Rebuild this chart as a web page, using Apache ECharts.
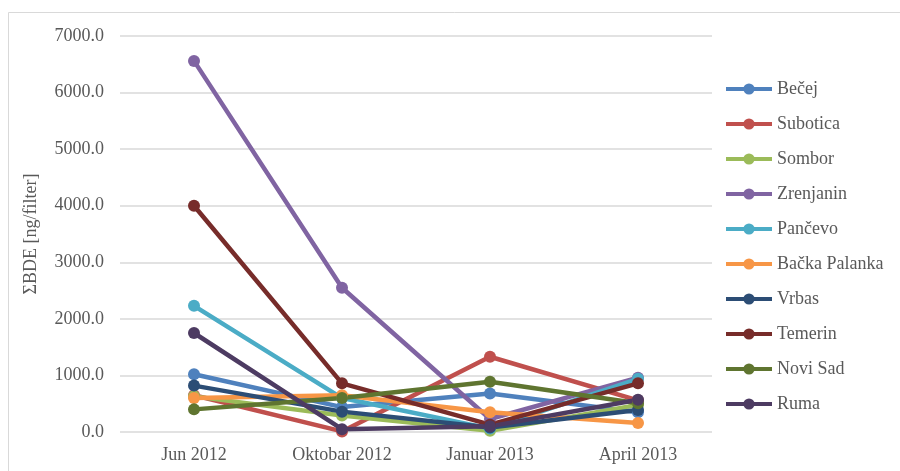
<!DOCTYPE html>
<html>
<head>
<meta charset="utf-8">
<script src="https://cdn.jsdelivr.net/npm/echarts@6/dist/echarts.min.js"></script>
<style>
  html, body { margin: 0; padding: 0; background: #fff; }
  #chart { width: 900px; height: 471px; }
</style>
</head>
<body>
<div id="chart"></div>
<script>
// Sampling campaigns
const campaigns = ['Jun 2012', 'Oktobar 2012', 'Januar 2013', 'April 2013'];

// ΣBDE per filter [ng/filter] for each site
const becej        = [1020, 440, 680, 350];
const subotica     = [650, 10, 1330, 560];
const sombor       = [630, 290, 20, 480];
const zrenjanin    = [6560, 2550, 230, 960];
const pancevo      = [2230, 600, 60, 940];
const backaPalanka = [600, 650, 350, 160];
const vrbas        = [820, 360, 80, 390];
const temerin      = [4000, 860, 130, 860];
const noviSad      = [400, 600, 890, 510];
const ruma         = [1750, 50, 100, 570];

const siteNames = ['Bečej', 'Subotica', 'Sombor', 'Zrenjanin', 'Pančevo',
                   'Bačka Palanka', 'Vrbas', 'Temerin', 'Novi Sad', 'Ruma'];
const siteValues = [becej, subotica, sombor, zrenjanin, pancevo,
                    backaPalanka, vrbas, temerin, noviSad, ruma];
const siteColors = ['#4F81BD', '#C0504D', '#9BBB59', '#8064A2', '#4BACC6',
                    '#F79646', '#2C4D75', '#772C2A', '#5F7530', '#4D3B62'];

const FONT = '"Liberation Serif", "Times New Roman", serif';

const chart = echarts.init(document.getElementById('chart'), null, { renderer: 'canvas' });

chart.setOption({
  animation: false,
  backgroundColor: '#ffffff',
  graphic: [{
    type: 'rect',
    shape: { x: 8.5, y: 12.5, width: 900, height: 470 },
    style: { fill: 'none', stroke: '#d9d9d9', lineWidth: 1 },
    silent: true
  }],
  grid: { left: 120, right: 188, top: 36, bottom: 39 },
  xAxis: {
    type: 'category',
    data: campaigns,
    boundaryGap: true,
    axisLine: { show: false },
    axisTick: { show: false },
    axisLabel: { color: '#595959', fontFamily: FONT, fontSize: 18, margin: 14 }
  },
  yAxis: {
    type: 'value',
    min: 0, max: 7000, interval: 1000,
    name: 'ΣBDE [ng/filter]',
    nameLocation: 'middle',
    nameGap: 80,
    nameTextStyle: { color: '#595959', fontFamily: FONT, fontSize: 18 },
    axisLine: { show: false },
    axisTick: { show: false },
    axisLabel: {
      color: '#595959', fontFamily: FONT, fontSize: 18, margin: 16,
      formatter: v => v.toFixed(1)
    },
    splitLine: { lineStyle: { color: '#d9d9d9', width: 1.5 } }
  },
  legend: {
    orient: 'vertical',
    left: 719,
    top: 75,
    itemWidth: 46,
    itemHeight: 14,
    itemGap: 17,
    textStyle: { color: '#595959', fontFamily: FONT, fontSize: 18 },
    lineStyle: { width: 4 },
    data: siteNames
  },
  series: siteNames.map((name, i) => ({
    name: name,
    type: 'line',
    data: siteValues[i],
    symbol: 'circle',
    symbolSize: 12,
    lineStyle: { width: 4.5, color: siteColors[i] },
    itemStyle: { color: siteColors[i] },
    color: siteColors[i]
  }))
});
</script>
</body>
</html>
